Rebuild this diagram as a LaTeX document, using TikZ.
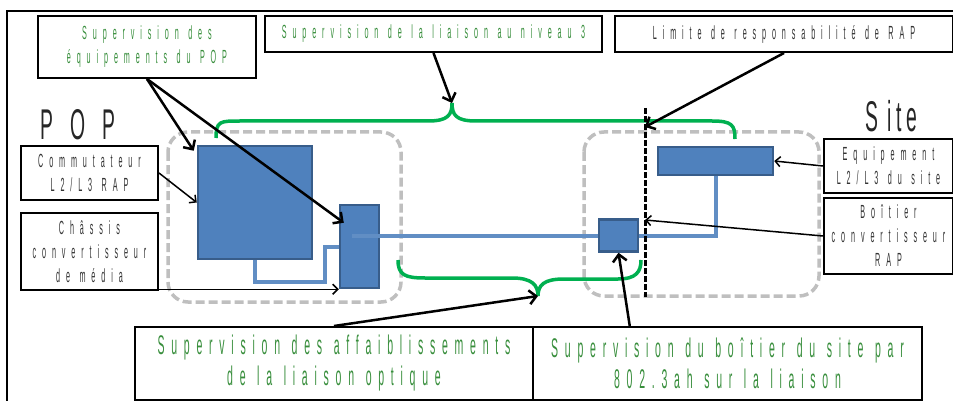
\documentclass[tikz,border=0pt]{standalone}
\usepackage{fontspec}
\usetikzlibrary{arrows.meta,calc}
\newfontfamily\labelfont[FakeStretch=0.38,LetterSpace=31,WordSpace=1.2]{Liberation Sans}
\newfontfamily\bigfont[FakeStretch=0.39,LetterSpace=25,WordSpace=1.2]{Liberation Sans}
\newfontfamily\titlefont[FakeStretch=0.45,LetterSpace=40]{Liberation Sans}
\newfontfamily\sitefont[FakeStretch=0.45,LetterSpace=10]{Liberation Sans}
\definecolor{txtgreen}{RGB}{56,142,60}
\definecolor{bracegreen}{RGB}{0,176,80}
\definecolor{eqblue}{RGB}{79,129,189}
\definecolor{eqborder}{RGB}{56,93,138}
\definecolor{zonegray}{RGB}{191,191,191}

\begin{document}
\begin{tikzpicture}[x=1pt,y=-1pt,
	lbl/.style={draw,line width=2pt,inner sep=0,align=center,text=black!80,font=\labelfont\fontsize{19}{24}\selectfont},
	greenlbl/.style={lbl,text=txtgreen},
	biglbl/.style={lbl,text=txtgreen,font=\bigfont\fontsize{27}{31}\selectfont},
	equip/.style={draw=eqborder,fill=eqblue,line width=2.5pt,inner sep=0},
	zone/.style={draw=zonegray,line width=3.5pt,dash pattern=on 9pt off 4pt,rounded corners=20pt},
	fibre/.style={draw=eqblue!90!white,line width=4pt},
	brace/.style={draw=bracegreen,line width=3.5pt},
	limitline/.style={line width=3pt,dash pattern=on 6pt off 2pt},
	bigarrow/.style={line width=2.5pt,-{Straight Barb[length=7pt,width=14pt]}},
	thinarrow/.style={line width=1.5pt,-{Straight Barb[length=5pt,width=10pt]}}]
	\useasboundingbox (0,0) rectangle (953,401);
	% frame
	\draw[line width=1.5pt] (7,401) |- (953,11);
	% POP and site zones
	\draw[zone] (168,132) rectangle (401,302);
	\draw[zone] (584,132) rectangle (819,296);
	% braces
	\coordinate (toptip) at (452,103);
	\coordinate (bottip) at (538,296);
	\draw[brace] (216,138) .. controls (216,121) and (220,121) .. (240,121) -- (428,121)
		.. controls (448,121) and (452,115) .. (toptip)
		.. controls (452,115) and (456,121) .. (476,121) -- (712,121)
		.. controls (732,121) and (735,125) .. (735,139);
	\draw[brace] (398,260) .. controls (398,275) and (405,278) .. (425,278) -- (512,278)
		.. controls (532,278) and (538,285) .. (bottip)
		.. controls (538,285) and (544,279) .. (564,279) -- (618,279)
		.. controls (636,279) and (641,272) .. (641,260);
	% equipment
	\node[equip,minimum width=114pt,minimum height=113pt] (popsw) at (255,202.5) {};
	\node[equip,minimum width=39pt,minimum height=83pt] (chassis) at (359.5,246.5) {};
	\node[equip,minimum width=115pt,minimum height=28pt] (sitesw) at (715.5,161) {};
	\node[equip,minimum width=39pt,minimum height=32pt] (sitebox) at (618.5,235.5) {};
	\draw[fibre] (popsw.south) -- ++(0,22) -| ($(chassis.west)+(-14,0)$) -- (chassis.west);
	\draw[fibre] ([xshift=-8pt]chassis.center |- sitebox.west) -- (sitebox.west);
	\draw[fibre] (sitesw.south) |- (sitebox.east);
	% limit of responsibility
	\coordinate (limtop) at (645,108);
	\coordinate (limbot) at (645,297);
	\coordinate (limtip) at (645,127);
	\coordinate (limb) at (645,220);
	\draw[limitline] (limtop) -- (limbot);
	% titles
	\node[font=\titlefont\fontsize{43}{43}\selectfont,text=black!85] (poptitle) at (78,125) {POP};
	\node[font=\sitefont\fontsize{43}{43}\selectfont,text=black!85] (sitetitle) at (891,116) {S\kern10pt ite};
	% labels
	\node[greenlbl,minimum width=218pt,minimum height=62pt] (equiplbl) at (147,47) {Supervision des\\équipements du POP};
	\node[greenlbl,minimum width=337pt,minimum height=36pt] (niv3) at (433.5,34) {Supervision de la liaison au niveau 3};
	\node[lbl,minimum width=338pt,minimum height=36pt] (limit) at (784,34) {Limite de responsabilité de RAP};
	\node[lbl,minimum width=137pt,minimum height=54pt] (comm) at (89.5,173) {Commutateur\\L2/L3 RAP};
	\node[lbl,minimum width=137pt,minimum height=77pt] (chasl) at (89.5,251.5) {Châssis\\convertisseur\\de média};
	\node[lbl,minimum width=129pt,minimum height=54pt] (siteeq) at (888.5,166) {Equipement\\L2/L3 du site};
	\node[lbl,minimum width=129pt,minimum height=76pt] (boitl) at (888.5,236) {Boîtier\\convertisseur\\RAP};
	\node[biglbl,minimum width=398pt,minimum height=73pt] (affaib) at (334,363.5) {Supervision des affaiblissements\\de la liaison optique};
	\node[biglbl,minimum width=389pt,minimum height=73pt] (supbox) at (727.5,363.5) {Supervision du boîtier du site par\\802.3ah sur la liaison};
	% arrows
	\draw[bigarrow] (equiplbl.south) -- ([shift={(-3,6)}]popsw.north west);
	\draw[bigarrow] (equiplbl.south) -- ([shift={(5,19)}]chassis.north west);
	\draw[bigarrow] (niv3.south) -- (toptip);
	\draw[bigarrow] (limit.south) -- (limtip);
	\draw[thinarrow] (comm.east) -- (popsw.west);
	\draw[thinarrow] (chasl.east |- chassis.south west) -- (chassis.south west);
	\draw[thinarrow] (siteeq.west) -- (sitesw.east);
	\draw[thinarrow] (boitl.west) -- (limb);
	\draw[bigarrow] (affaib.north) -- (bottip);
	\draw[bigarrow] ($(supbox.north west)!0.25!(supbox.north east)$) -- (sitebox.south);
\end{tikzpicture}
\end{document}
